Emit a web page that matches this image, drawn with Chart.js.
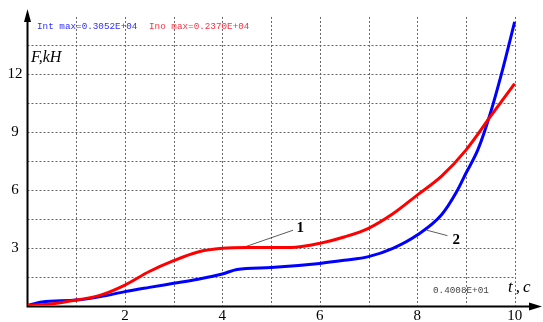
<!DOCTYPE html>
<html>
<head>
<meta charset="utf-8">
<script src="https://cdn.jsdelivr.net/npm/chart.js@4"></script>
<style>
  html, body { margin: 0; padding: 0; background: #fff; }
  #wrap { width: 543px; height: 322px; }
</style>
</head>
<body>
<div id="wrap"><canvas id="forceChart" width="543" height="322"></canvas></div>
<script>
// time, s
const tBlue = [0, 0.3, 1, 1.5, 2, 2.5, 3, 3.5, 4, 4.3, 5, 6, 6.5, 7, 7.5, 8, 8.5, 8.8, 9, 9.25, 9.5, 9.75, 10];
// force, kH (curve 2)
const fBlue = [0, 0.18, 0.28, 0.46, 0.72, 0.94, 1.15, 1.36, 1.63, 1.87, 1.97, 2.18, 2.34, 2.53, 2.96, 3.65, 4.7, 5.85, 6.85, 8.1, 9.95, 12.2, 14.7];

const tRed = [0, 0.5, 1, 1.5, 2, 2.5, 3, 3.5, 4, 4.5, 5, 5.5, 6, 6.5, 7, 7.5, 8, 8.5, 9, 9.5, 10];
// force, kH (curve 1)
const fRed = [0, 0.08, 0.28, 0.54, 1.06, 1.76, 2.32, 2.77, 2.96, 3.0, 3.0, 3.02, 3.22, 3.55, 4.0, 4.75, 5.72, 6.7, 8.05, 9.78, 11.5];

const xTickLabels = [2, 4, 6, 8, 10];
const yTickLabels = [3, 6, 9, 12];
const xGrid = [1, 2, 3, 4, 5, 6, 7, 8, 9, 10];
const yGrid = [1.5, 3, 4.5, 6, 7.5, 9, 10.5, 12, 13.5];

// curve markers: [label, point on curve, end of leader, label position]
const markers = [
  ["1", [4.42, 3.0], [5.45, 3.9], [5.6, 4.0]],
  ["2", [8.2, 3.9], [8.62, 3.62], [8.8, 3.4]],
];

const toPts = (xs, ys) => xs.map((x, i) => ({ x: x, y: ys[i] }));

const decor = {
  id: "decor",
  beforeDatasetsDraw(chart) {
    const { ctx, chartArea: a, scales: { x, y } } = chart;
    ctx.save();
    ctx.strokeStyle = "#666";
    ctx.lineWidth = 1;
    ctx.setLineDash([2, 2]);
    xGrid.forEach((v) => {
      const px = Math.round(x.getPixelForValue(v)) + 0.5;
      ctx.beginPath();
      ctx.moveTo(px, y.getPixelForValue(14.95));
      ctx.lineTo(px, a.bottom);
      ctx.stroke();
    });
    yGrid.forEach((v) => {
      const py = Math.round(y.getPixelForValue(v)) + 0.5;
      ctx.beginPath();
      ctx.moveTo(a.left, py);
      ctx.lineTo(x.getPixelForValue(10), py);
      ctx.stroke();
    });
    ctx.setLineDash([]);

    // axes with arrows
    ctx.strokeStyle = "#000";
    ctx.fillStyle = "#000";
    ctx.lineWidth = 2;
    const x0 = a.left, y0 = a.bottom + 1;
    ctx.beginPath();
    ctx.moveTo(x0, y0);
    ctx.lineTo(x0, a.top + 8);
    ctx.moveTo(x0 - 1, y0);
    ctx.lineTo(a.right - 6, y0);
    ctx.stroke();
    ctx.beginPath();
    ctx.moveTo(x0, a.top - 1);
    ctx.lineTo(x0 - 3.5, a.top + 12);
    ctx.lineTo(x0 + 3.5, a.top + 12);
    ctx.closePath();
    ctx.fill();
    ctx.beginPath();
    ctx.moveTo(a.right + 3, y0);
    ctx.lineTo(a.right - 10, y0 - 4);
    ctx.lineTo(a.right - 10, y0 + 4);
    ctx.closePath();
    ctx.fill();

    // tick labels
    ctx.font = "15px 'Liberation Serif'";
    ctx.textAlign = "center";
    ctx.textBaseline = "middle";
    xTickLabels.forEach((v) => ctx.fillText(String(v), x.getPixelForValue(v), 316));
    yTickLabels.forEach((v) => ctx.fillText(String(v), 15, y.getPixelForValue(v)));

    // axis titles
    ctx.font = "italic 16px 'Liberation Serif'";
    ctx.textAlign = "left";
    ctx.textBaseline = "alphabetic";
    ctx.fillText("F,kH", 31, 62);
    ctx.font = "italic 17px 'Liberation Serif'";
    ctx.letterSpacing = "3px";
    ctx.fillText("t,c", 508, 292);
    ctx.letterSpacing = "0px";

    // header and footer texts
    ctx.font = "9.3px 'Liberation Mono'";
    ctx.textBaseline = "middle";
    ctx.fillStyle = "#3030ff";
    ctx.fillText("Int max=0.3052E+04", 37, 27);
    ctx.fillStyle = "#ff3040";
    ctx.fillText("Ino max=0.2370E+04", 149, 27);
    ctx.fillStyle = "#444";
    ctx.fillText("0.4008E+01", 433, 291);

    // curve markers
    ctx.strokeStyle = "#333";
    ctx.lineWidth = 0.8;
    ctx.fillStyle = "#000";
    ctx.font = "bold 15px 'Liberation Serif'";
    ctx.textAlign = "center";
    markers.forEach(([lbl, p, q, t]) => {
      ctx.beginPath();
      ctx.moveTo(x.getPixelForValue(p[0]), y.getPixelForValue(p[1]));
      ctx.lineTo(x.getPixelForValue(q[0]), y.getPixelForValue(q[1]));
      ctx.stroke();
      ctx.fillText(lbl, x.getPixelForValue(t[0]), y.getPixelForValue(t[1]));
    });
    ctx.restore();
  },
};

new Chart(document.getElementById("forceChart").getContext("2d"), {
  type: "line",
  data: {
    datasets: [
      {
        label: "1",
        data: toPts(tRed, fRed),
        borderColor: "#ff0000",
        borderWidth: 3,
        pointRadius: 0,
        cubicInterpolationMode: "monotone",
      },
      {
        label: "2",
        data: toPts(tBlue, fBlue),
        borderColor: "#0000ff",
        borderWidth: 3,
        pointRadius: 0,
        cubicInterpolationMode: "monotone",
      },
    ],
  },
  options: {
    responsive: false,
    animation: false,
    layout: { padding: { left: 27.5, right: 4, top: 10, bottom: 16.5 } },
    plugins: { legend: { display: false }, tooltip: { enabled: false } },
    scales: {
      x: { type: "linear", min: 0, max: 10.5, display: false },
      y: { type: "linear", min: 0, max: 15.31, display: false },
    },
  },
  plugins: [decor],
});
</script>
</body>
</html>
